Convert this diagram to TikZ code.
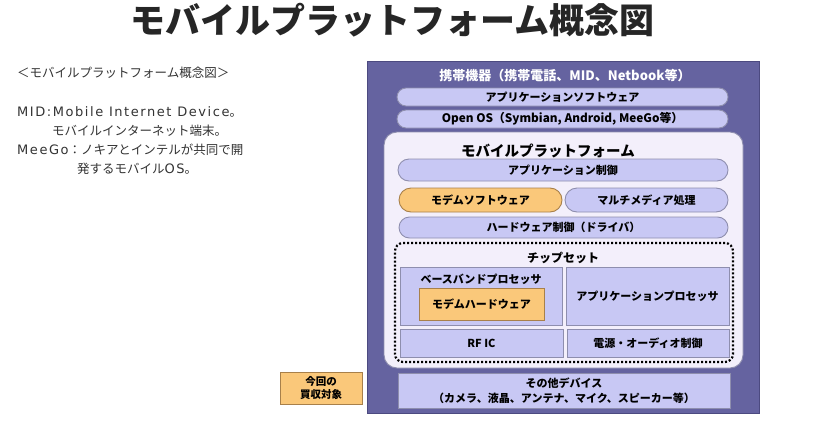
\documentclass[tikz,border=0pt]{standalone}
\usepackage{fontspec}
\setmainfont{Noto Sans CJK JP}
\newfontfamily\latf[LetterSpace=12]{DejaVu Sans}
\usetikzlibrary{positioning}
\definecolor{outerc}{HTML}{6563A0}
\definecolor{outerd}{HTML}{4C4A80}
\definecolor{pillc}{HTML}{C8C8F4}
\definecolor{pilld}{HTML}{8E8EAE}
\definecolor{platc}{HTML}{F3EFFB}
\definecolor{orangec}{HTML}{FAC87A}
\definecolor{oranged}{HTML}{A8804A}
\definecolor{textc}{HTML}{333333}
\tikzset{
  lbl/.style={font=\bfseries\fontsize{11}{13}\selectfont, text=black, inner sep=0pt},
  pill/.style={draw=pilld, line width=0.9pt, fill=pillc, rounded corners=10pt, inner sep=0pt, lbl},
  opill/.style={pill, fill=orangec, draw=oranged},
  chipbox/.style={draw=pilld, line width=0.9pt, fill=pillc, inner sep=0pt, lbl},
  obox/.style={chipbox, fill=orangec, draw=oranged},
  lefttext/.style={anchor=west, font=\fontsize{12.5}{14}\selectfont, text=textc, inner sep=0pt}
}
\begin{document}
\begin{tikzpicture}[x=1pt,y=-1pt]
\useasboundingbox (0,0) rectangle (826,442);
\fill[white] (0,0) rectangle (826,442);
% title
\node[font=\bfseries\fontsize{35}{38}\selectfont, text=black!85, inner sep=0pt] (title) at (392,20) {モバイルプラットフォーム概念図};
% left notes
\node[lefttext] (n1) at (17,73) {＜モバイルプラットフォーム概念図＞};
\node[lefttext] (n2) at (17,112) {{\latf\fontsize{13}{14}\selectfont MID:Mobile Internet Device}。};
\node[lefttext] (n3) at (52,131) {モバイルインターネット端末。};
\node[lefttext] (n4) at (17,150) {{\latf\fontsize{13}{14}\selectfont MeeGo}：ノキアとインテルが共同で開};
\node[lefttext] (n5) at (77,169) {発するモバイル{\latf\fontsize{13}{14}\selectfont OS}。};
% outer box
\node[draw=outerd, line width=1pt, fill=outerc, minimum width=392pt, minimum height=352pt, inner sep=0pt] (outer) at (563,237) {};
\node[lbl, text=white, font=\bfseries\fontsize{13}{15}\selectfont] (hdr) at (565,76) {携帯機器（携帯電話、MID、Netbook等）};
\node[pill, minimum width=331pt, minimum height=18pt, rounded corners=9pt] (appsw) at (562.5,97) {アプリケーションソフトウェア};
\node[pill, minimum width=331pt, minimum height=18pt, rounded corners=9pt, font=\bfseries\fontsize{11.8}{13}\selectfont] (openos) at (562.5,119) {Open OS（Symbian, Android, MeeGo等）};
% platform
\node[draw=pilld, line width=0.9pt, fill=platc, rounded corners=13pt, minimum width=359pt, minimum height=236pt, inner sep=0pt] (plat) at (563.5,250) {};
\node[lbl, font=\bfseries\fontsize{14.5}{16}\selectfont] (plattitle) at (548,151) {モバイルプラットフォーム};
\node[pill, minimum width=330pt, minimum height=22pt, rounded corners=11pt] (appctl) at (563,170) {アプリケーション制御};
\node[opill, minimum width=163pt, minimum height=24pt, rounded corners=12pt] (modemsw) at (480.5,200) {モデムソフトウェア};
\node[pill, minimum width=163pt, minimum height=24pt, rounded corners=12pt] (mm) at (646.5,200) {マルチメディア処理};
\node[pill, minimum width=329pt, minimum height=21pt, rounded corners=10.5pt] (hwctl) at (563.5,227.5) {ハードウェア制御（ドライバ）};
% chipset
\node[draw=black, line width=2.2pt, dash pattern=on 2pt off 2pt, rounded corners=8pt, minimum width=338pt, minimum height=119pt, inner sep=0pt] (chip) at (564,302.5) {};
\node[lbl, font=\bfseries\fontsize{12}{14}\selectfont] (chiptitle) at (563,258) {チップセット};
\node[chipbox, minimum width=162pt, minimum height=58pt] (bb) at (481,296) {};
\node[lbl] (bbtitle) at (481,279) {ベースバンドプロセッサ};
\node[obox, minimum width=125pt, minimum height=32pt] (modemhw) at (481.5,304) {モデムハードウェア};
\node[chipbox, minimum width=163pt, minimum height=58pt] (ap) at (647.5,296) {アプリケーションプロセッサ};
\node[chipbox, minimum width=163pt, minimum height=28pt] (rf) at (481.5,343) {RF IC};
\node[chipbox, minimum width=162pt, minimum height=28pt] (pw) at (648,343) {電源・オーディオ制御};
% other devices
\node[chipbox, minimum width=332pt, minimum height=35pt, align=center, font=\bfseries\fontsize{11}{15}\selectfont] (other) at (564,390.5) {その他デバイス\\（カメラ、液晶、アンテナ、マイク、スピーカー等）};
% legend
\node[obox, minimum width=82pt, minimum height=32pt, align=center, font=\bfseries\fontsize{10.5}{13}\selectfont] (legend) at (321,388) {今回の\\買収対象};
\end{tikzpicture}
\end{document}
